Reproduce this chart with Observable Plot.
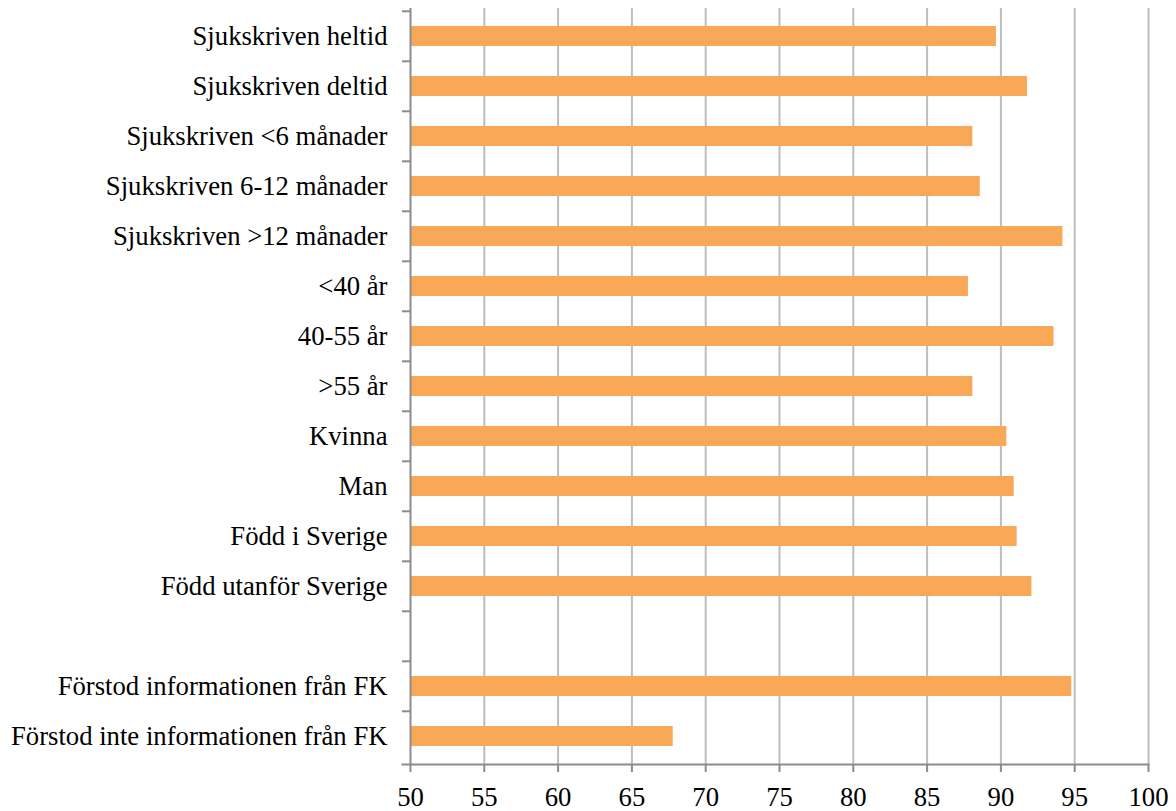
<!DOCTYPE html>
<html>
<head>
<meta charset="utf-8">
<script src="https://cdn.jsdelivr.net/npm/d3@7"></script>
<script src="https://cdn.jsdelivr.net/npm/@observablehq/plot@0.6"></script>
<style>
  html, body { margin: 0; padding: 0; background: #fff; }
  #chart svg, #chart svg text { font-family: "Liberation Serif", "Times New Roman", "DejaVu Serif", serif !important; }
</style>
</head>
<body>
<div id="chart"></div>
<script>
const categories = [
  "Sjukskriven heltid",
  "Sjukskriven deltid",
  "Sjukskriven <6 månader",
  "Sjukskriven 6-12 månader",
  "Sjukskriven >12 månader",
  "<40 år",
  "40-55 år",
  ">55 år",
  "Kvinna",
  "Man",
  "Född i Sverige",
  "Född utanför Sverige",
  " ",
  "Förstod informationen från FK",
  "Förstod inte informationen från FK"
];
const values = [89.7, 91.8, 88.1, 88.6, 94.2, 87.8, 93.6, 88.1, 90.4, 90.9, 91.1, 92.1, null, 94.8, 67.8];
const xTicks = [50, 55, 60, 65, 70, 75, 80, 85, 90, 95, 100];

const data = categories
  .map((c, i) => ({category: c, value: values[i]}))
  .filter(d => d.value != null);

const W = 1176, H = 811, mt = 8, mb = 47, ml = 410, mr = 28;
const step = (H - mt - mb) / categories.length;
const axisColor = "#8c8c8c";
const serif = "Liberation Serif, Times New Roman, serif";
const fs = 26.7;

const chart = Plot.plot({
  width: W,
  height: H,
  marginLeft: ml,
  marginRight: mr,
  marginTop: mt,
  marginBottom: mb,
  style: {
    fontFamily: serif,
    fontSize: fs + "px",
    color: "#000",
    background: "#fff",
    overflow: "visible"
  },
  x: {domain: [50, 100]},
  y: {domain: categories, paddingInner: 0.6, paddingOuter: 0.3},
  marks: [
    Plot.gridX(xTicks.slice(1), {stroke: "#bdbdbd", strokeOpacity: 1, strokeWidth: 2}),
    Plot.barX(data, {x1: 50, x2: "value", y: "category", fill: "#f9a857"}),
    Plot.ruleX([50], {stroke: axisColor, strokeWidth: 2}),
    Plot.frame({anchor: "bottom", stroke: axisColor, strokeWidth: 2, insetLeft: -8}),
    Plot.axisX(xTicks, {tickSize: 8, tickPadding: 15, stroke: axisColor, strokeWidth: 2, fill: "#000", fontSize: fs, fontFamily: serif, label: null}),
    Plot.axisY(categories, {tickSize: 8, text: null, dy: -step / 2, stroke: axisColor, strokeWidth: 2, label: null}),
    Plot.axisY(categories, {tickSize: 0, tickPadding: 23, fill: "#000", fontSize: fs, fontFamily: serif, label: null})
  ]
});
document.getElementById("chart").appendChild(chart);
</script>
</body>
</html>
